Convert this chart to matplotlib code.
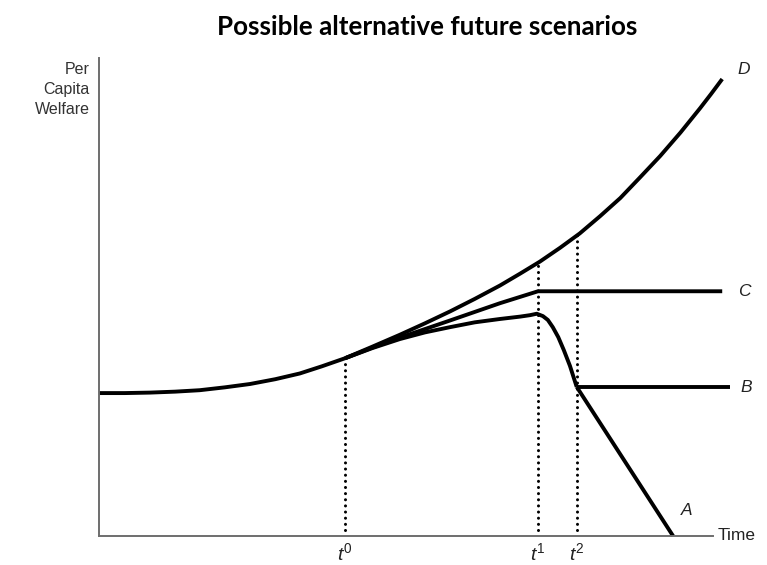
import matplotlib
matplotlib.use("Agg")
import matplotlib.pyplot as plt

plt.rcParams['mathtext.fontset'] = 'custom'
plt.rcParams['mathtext.it'] = 'Liberation Sans:italic'
plt.rcParams['mathtext.rm'] = 'Liberation Sans'

# ---- data (arbitrary units) ----
# Scenario D: continued growth
d_time = [0.0, 0.42, 0.83, 1.24, 1.64, 2.05, 2.46, 2.87, 3.27, 3.63, 4.01, 4.45,
          4.90, 5.31, 5.72, 6.12, 6.53, 6.86, 7.18, 7.51, 7.83, 8.16, 8.49, 8.81,
          9.14, 9.47, 9.79, 9.97, 10.15]
d_welfare = [2.99, 2.99, 3.00, 3.02, 3.05, 3.11, 3.18, 3.28, 3.40, 3.55, 3.72, 3.96,
             4.21, 4.45, 4.70, 4.96, 5.24, 5.49, 5.74, 6.03, 6.33, 6.69, 7.07, 7.50,
             7.95, 8.44, 8.95, 9.25, 9.56]

# Scenario C: growth then plateau
c_time = [4.01, 4.45, 4.90, 5.72, 6.53, 7.15, 10.15]
c_welfare = [3.72, 3.94, 4.15, 4.51, 4.87, 5.12, 5.12]

# Common path of scenarios A and B (up to t2)
ab_time = [4.01, 4.45, 4.90, 5.31, 5.72, 6.12, 6.53, 6.86, 7.02, 7.13, 7.23, 7.31,
           7.39, 7.48, 7.57, 7.67, 7.78]
ab_welfare = [3.72, 3.93, 4.12, 4.26, 4.37, 4.47, 4.54, 4.59, 4.62, 4.65, 4.60, 4.52,
              4.37, 4.16, 3.89, 3.56, 3.12]

# Scenario B: plateau after decline
b_time = [7.78, 10.28]
b_welfare = [3.12, 3.12]

# Scenario A: collapse
a_time = [7.78, 9.35]
a_welfare = [3.12, 0.0]

# Reference times
ref_labels = [r'$t^{0}$', r'$t^{1}$', r'$t^{2}$']
ref_time = [4.01, 7.15, 7.78]
ref_top = [3.62, 5.70, 6.30]

# Curve labels
curve_labels = ['D', 'C', 'B', 'A']
curve_label_x = [10.40, 10.40, 10.44, 9.48]
curve_label_y = [9.75, 5.12, 3.10, 0.54]

fig = plt.figure(figsize=(7.67, 5.65), dpi=100)
ax = fig.add_axes([99/767, 29/565, 660/767, 478/565])
ax.set_xlim(0, 660/61.4)
ax.set_ylim(0, 10)

for s in ['top', 'right']:
    ax.spines[s].set_visible(False)
for s in ['left', 'bottom']:
    ax.spines[s].set_color('#6e6e6e')
    ax.spines[s].set_linewidth(1.4)
ax.spines['left'].set_bounds(0, 10)
ax.spines['bottom'].set_bounds(0, 10)
ax.set_xticks([])
ax.set_yticks([])

lw = 2.8
kw = dict(color='black', lw=lw, solid_capstyle='butt', solid_joinstyle='round', clip_on=False)
ax.plot(d_time, d_welfare, **kw)
ax.plot(c_time, c_welfare, **kw)
ax.plot(ab_time, ab_welfare, **kw)
ax.plot(b_time, b_welfare, **kw)
ax.plot(a_time, a_welfare, **kw)

for x, top in zip(ref_time, ref_top):
    ax.plot([x, x], [0.12, top], color='black', lw=2.2,
            linestyle=(0, (0.01, 2.0)), dash_capstyle='round', clip_on=False)

for lab, x in zip(ref_labels, ref_time):
    ax.text(x, -0.36, lab, ha='center', va='center', fontsize=14, color='#222222')

for lab, x, y in zip(curve_labels, curve_label_x, curve_label_y):
    ax.text(x, y, lab, ha='left', va='center', fontsize=12.5, style='italic',
            family='Liberation Sans', color='#222222')

ax.text(10.08, 0, 'Time', ha='left', va='center', fontsize=12.5,
        family='Liberation Sans', color='#222222')

fig.text(90/767, 1 - 62/565, 'Per\nCapita\nWelfare', ha='right', va='top',
         fontsize=11.5, family='Liberation Sans', color='#333333', linespacing=1.4)

fig.text(427/767, 1 - 27/565, 'Possible alternative future scenarios', ha='center',
         va='center', fontsize=18.7, fontweight='bold', family='Lato', color='black')

fig.savefig('out.png', dpi=100, facecolor='white')
